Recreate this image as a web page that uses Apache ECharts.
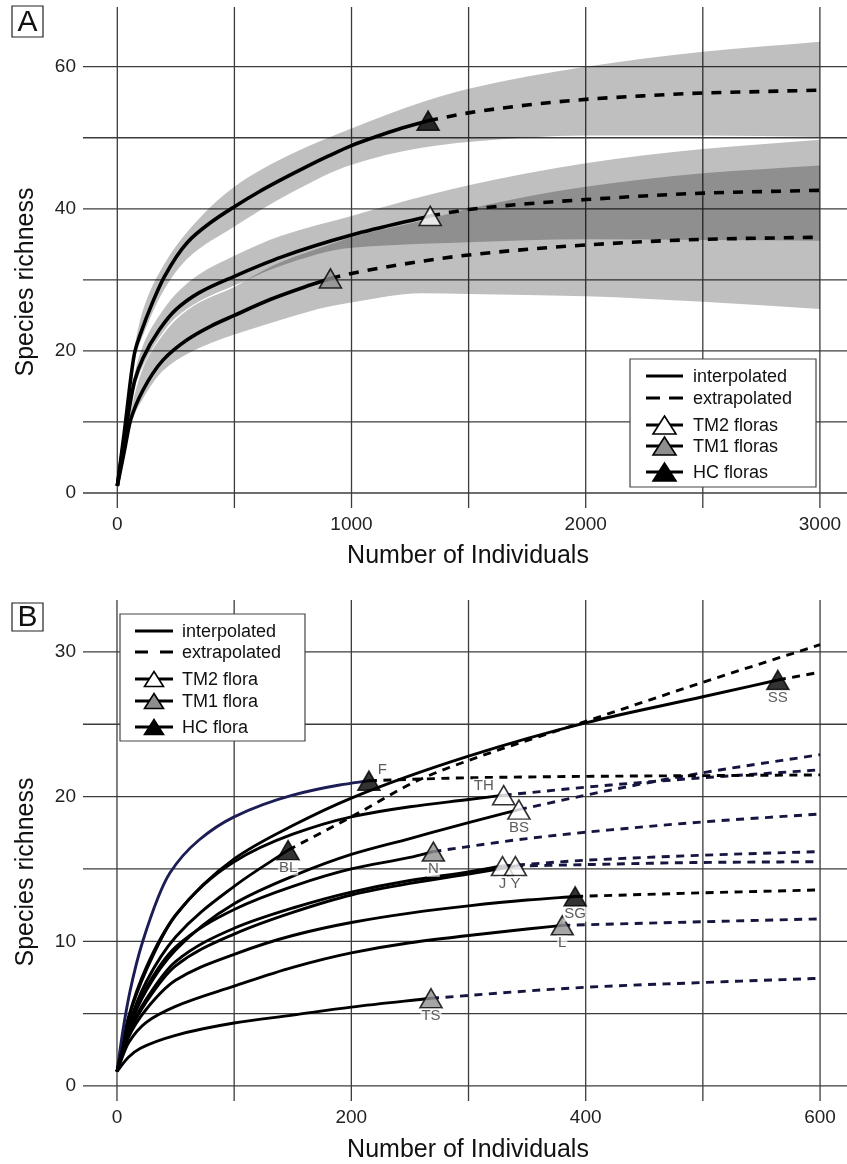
<!DOCTYPE html>
<html><head><meta charset="utf-8">
<script src="https://cdn.jsdelivr.net/npm/echarts@6/dist/echarts.min.js"></script>
<style>html,body{margin:0;padding:0;background:#fff}#c{width:847px;height:1164px}</style>
</head><body><div id="c"></div>
<script>
// ===================== DATA =====================
// Panel A ticks
const aXGrid = [0, 500, 1000, 1500, 2000, 2500, 3000];
const aYGrid = [0, 10, 20, 30, 40, 50, 60];
const aXLabels = [0, 1000, 2000, 3000];
const aYLabels = [0, 20, 40, 60];
// Panel A curves [individuals, species]
const aHC_interp = [[0,1],[30,8.6],[75,19.9],[100,22.5],[150,26.8],[200,30.4],[300,35.3],[400,38.1],[500,40.3],[600,42.3],[700,44.1],[800,45.8],[900,47.4],[1000,48.9],[1100,50.1],[1200,51.2],[1327,52.4]];
const aHC_extrap = [[1327,52.4],[1500,53.5],[1750,54.6],[2000,55.4],[2250,55.9],[2500,56.3],[2750,56.5],[3000,56.7]];
const aHC_upper = [[0,1],[30,9.2],[75,20.8],[110,25.8],[200,32.2],[300,36.8],[500,43.1],[750,47.8],[1000,51.3],[1300,55.0],[1500,56.9],[2000,60.0],[2500,62.1],[3000,63.5]];
const aHC_lower = [[0,1],[30,8.1],[75,19.0],[110,22.2],[200,28.6],[300,33.0],[500,37.5],[750,42.4],[1000,46.2],[1300,48.6],[1500,49.4],[2000,50.3],[2500,50.3],[3000,50.1]];
const aTM2_interp = [[0,1],[30,7.6],[75,15.9],[110,19.0],[180,23.0],[250,25.8],[350,28.2],[500,30.5],[700,33.2],[1000,36.3],[1336,39.0]];
const aTM2_extrap = [[1336,39.0],[1500,39.9],[1750,40.7],[2000,41.3],[2500,42.2],[3000,42.6]];
const aTM2_upper = [[0,1],[30,8.1],[75,17.0],[110,20.8],[180,25.0],[250,28.0],[350,30.8],[500,33.4],[700,36.2],[1000,39.0],[1336,42.0],[1500,43.3],[2000,46.4],[2500,48.4],[3000,49.7]];
const aTM2_lower = [[0,1],[30,7.1],[75,14.9],[110,17.9],[180,21.9],[250,24.7],[350,27.0],[500,29.2],[700,32.0],[1000,34.5],[1336,35.1],[1500,35.3],[2000,35.7],[2500,35.6],[3000,35.5]];
const aTM1_interp = [[0,1],[30,5.9],[57,10.3],[110,14.5],[195,18.7],[300,21.6],[400,23.5],[500,25.0],[650,27.2],[800,29.0],[910,30.2]];
const aTM1_extrap = [[910,30.2],[1000,30.9],[1200,32.1],[1500,33.5],[2000,34.9],[2500,35.7],[3000,36.0]];
const aTM1_upper = [[0,1],[30,6.6],[57,11.5],[110,17.6],[180,21.6],[250,24.4],[350,26.8],[500,29.0],[600,30.9],[700,32.5],[910,35.0],[1000,36.0],[1300,38.3],[1500,40.0],[2000,43.1],[2500,45.0],[3000,46.1]];
const aTM1_lower = [[0,1],[30,5.4],[57,9.6],[110,13.3],[195,17.2],[300,19.6],[400,21.1],[500,22.3],[700,24.4],[910,26.3],[1000,26.8],[1300,28.1],[1500,28.0],[2000,27.7],[2500,26.9],[3000,25.9]];

// Panel B ticks
const bXGrid = [0, 100, 200, 300, 400, 500, 600];
const bYGrid = [0, 5, 10, 15, 20, 25, 30];
const bXLabels = [0, 200, 400, 600];
const bYLabels = [0, 10, 20, 30];
// Panel B floras
const bNames = ['SS', 'TH', 'BS', 'F', 'BL', 'N', 'J', 'Y', 'SG', 'L', 'TS'];
const bTypes = ['HC', 'TM2', 'TM2', 'HC', 'HC', 'TM1', 'TM2', 'TM2', 'HC', 'TM1', 'TM1'];
const bSS_i = [[0,1],[10,4.8],[25,8.2],[50,11.8],[100,15.7],[150,18.0],[200,19.9],[300,22.8],[400,25.1],[500,26.9],[564,28.06]];
const bSS_e = [[564,28.06],[580,28.3],[600,28.6]];
const bTH_i = [[0,1],[10,4.7],[25,8.0],[50,11.8],[100,15.5],[150,17.4],[200,18.6],[250,19.3],[300,19.8],[330,20.1]];
const bTH_e = [[330,20.1],[421,20.8],[500,21.3],[600,21.85]];
const bBS_i = [[0,1],[10,3.9],[25,6.6],[50,9.4],[100,12.6],[150,14.5],[200,16.0],[250,17.1],[300,18.2],[343,19.1]];
const bBS_e = [[343,19.1],[421,20.45],[500,21.65],[600,22.9]];
const bF_i = [[0,1],[5,3.8],[11,6.5],[22,10.0],[45,14.7],[70,17.0],[100,18.6],[150,20.1],[190,20.8],[215,21.1]];
const bF_e = [[215,21.1],[300,21.3],[400,21.4],[500,21.45],[600,21.5]];
const bBL_i = [[0,1],[10,4.2],[25,7.2],[50,10.3],[100,13.8],[146,16.3]];
const bBL_e = [[146,16.3],[200,18.6],[259,21.2],[300,22.5],[400,25.2],[500,27.9],[600,30.5]];
const bN_i = [[0,1],[10,4.1],[25,6.8],[50,9.6],[100,12.2],[150,13.8],[200,15.0],[250,15.8],[270,16.2]];
const bN_e = [[270,16.2],[350,17.1],[421,17.7],[500,18.25],[600,18.8]];
const bJ_i = [[0,1],[10,3.7],[25,6.0],[50,8.6],[100,10.9],[150,12.3],[200,13.4],[250,14.2],[300,14.8],[329,15.2]];
const bJ_e = [[329,15.2],[400,15.6],[500,15.95],[600,16.2]];
const bY_i = [[0,1],[10,3.6],[25,5.8],[50,8.3],[100,10.5],[150,12.0],[200,13.2],[250,14.0],[300,14.65],[340,15.2]];
const bY_e = [[340,15.2],[400,15.3],[500,15.45],[600,15.5]];
const bSG_i = [[0,1],[10,3.4],[25,5.3],[50,7.3],[100,9.1],[150,10.4],[200,11.3],[250,11.95],[300,12.45],[350,12.85],[391,13.1]];
const bSG_e = [[391,13.1],[500,13.35],[600,13.55]];
const bL_i = [[0,1],[10,3.0],[25,4.4],[50,5.5],[100,6.9],[150,8.2],[200,9.2],[250,9.9],[300,10.4],[350,10.85],[380,11.1]];
const bL_e = [[380,11.1],[500,11.35],[600,11.55]];
const bTS_i = [[0,1],[10,2.0],[20,2.6],[50,3.5],[100,4.35],[150,4.9],[200,5.45],[268,6.06]];
const bTS_e = [[268,6.06],[400,6.82],[500,7.15],[600,7.44]];
const bInterp = [bSS_i, bTH_i, bBS_i, bF_i, bBL_i, bN_i, bJ_i, bY_i, bSG_i, bL_i, bTS_i];
const bExtrap = [bSS_e, bTH_e, bBS_e, bF_e, bBL_e, bN_e, bJ_e, bY_e, bSG_e, bL_e, bTS_e];

// ===================== STYLE =====================
const FONT = "'Liberation Sans', Arial, Helvetica, sans-serif";
const FILL = { TM2: '#ffffff', TM1: '#8e8e8e', HC: '#000000' };
const NAVY = '#15153f';
const GRID_COLOR = '#3c3c3c';

function gridLines(idx, xs, ys) {
  return {
    type: 'custom', xAxisIndex: idx, yAxisIndex: idx, silent: true, z: 1, data: [[0, 0]],
    renderItem: function (params, api) {
      const cs = params.coordSys; const ch = [];
      xs.forEach(v => { const p = api.coord([v, 0]); ch.push({ type: 'line', shape: { x1: p[0], y1: cs.y, x2: p[0], y2: cs.y + cs.height }, style: { stroke: GRID_COLOR, lineWidth: 1.3 } }); });
      ys.forEach(v => { const p = api.coord([0, v]); ch.push({ type: 'line', shape: { x1: cs.x, y1: p[1], x2: cs.x + cs.width, y2: p[1] }, style: { stroke: GRID_COLOR, lineWidth: 1.3 } }); });
      return { type: 'group', children: ch };
    }
  };
}
// monotone cubic (PCHIP) bezier segments through pixel points (x increasing)
function pchipSegs(p) {
  const n = p.length, h = [], d = [], m = [];
  for (let k = 0; k < n - 1; k++) { h[k] = p[k + 1][0] - p[k][0]; d[k] = (p[k + 1][1] - p[k][1]) / h[k]; }
  m[0] = d[0]; m[n - 1] = d[n - 2];
  for (let k = 1; k < n - 1; k++) {
    if (d[k - 1] * d[k] <= 0) m[k] = 0;
    else { const w1 = 2 * h[k] + h[k - 1], w2 = h[k] + 2 * h[k - 1]; m[k] = (w1 + w2) / (w1 / d[k - 1] + w2 / d[k]); }
  }
  const segs = [];
  for (let k = 0; k < n - 1; k++) {
    segs.push([p[k], [p[k][0] + h[k] / 3, p[k][1] + m[k] * h[k] / 3], [p[k + 1][0] - h[k] / 3, p[k + 1][1] - m[k + 1] * h[k] / 3], p[k + 1]]);
  }
  return segs;
}
function fwd(segs) { return segs.map(s => ' C' + s[1][0] + ',' + s[1][1] + ' ' + s[2][0] + ',' + s[2][1] + ' ' + s[3][0] + ',' + s[3][1]).join(''); }
function rev(segs) { return segs.slice().reverse().map(s => ' C' + s[2][0] + ',' + s[2][1] + ' ' + s[1][0] + ',' + s[1][1] + ' ' + s[0][0] + ',' + s[0][1]).join(''); }

function band(upper, lower) {
  return {
    type: 'custom', xAxisIndex: 0, yAxisIndex: 0, silent: true, z: 2, data: [[0, 0]],
    renderItem: function (params, api) {
      const up = upper.map(p => api.coord(p));
      const lo = lower.map(p => api.coord(p));
      const last = lo[lo.length - 1];
      const d = 'M' + up[0][0] + ',' + up[0][1] + fwd(pchipSegs(up)) + ' L' + last[0] + ',' + last[1] + rev(pchipSegs(lo)) + ' Z';
      return { type: 'path', shape: { pathData: d }, style: { fill: 'rgba(0,0,0,0.25)' } };
    }
  };
}
function curve(idx, data, color, width, dash) {
  return {
    type: 'custom', xAxisIndex: idx, yAxisIndex: idx, silent: true, z: 3, data: [[0, 0]],
    renderItem: function (params, api) {
      const pts = data.map(p => api.coord(p));
      const d = 'M' + pts[0][0] + ',' + pts[0][1] + fwd(pchipSegs(pts));
      return { type: 'path', shape: { pathData: d }, style: { fill: 'none', stroke: color, lineWidth: width, lineDash: dash || null, lineCap: 'butt', lineJoin: 'round' } };
    }
  };
}
function marker(idx, pts, size) {
  return { type: 'scatter', xAxisIndex: idx, yAxisIndex: idx, z: 5, silent: true, symbol: 'triangle', symbolSize: size, data: pts };
}

const series = [];
series.push(gridLines(0, aXGrid, aYGrid));
series.push(gridLines(1, bXGrid, bYGrid));
series.push(band(aHC_upper, aHC_lower));
series.push(band(aTM2_upper, aTM2_lower));
series.push(band(aTM1_upper, aTM1_lower));
const DASH_A = [10, 9];
[[aHC_interp, aHC_extrap], [aTM2_interp, aTM2_extrap], [aTM1_interp, aTM1_extrap]].forEach(([i, e]) => {
  series.push(curve(0, i, '#000', 3.6));
  series.push(curve(0, e, '#000', 3.6, DASH_A));
});
series.push(marker(0, [['HC', aHC_interp], ['TM2', aTM2_interp], ['TM1', aTM1_interp]].map(([t, arr]) => ({
  value: arr[arr.length - 1], itemStyle: { color: FILL[t], borderColor: '#000', borderWidth: 1.6 }
})), [22, 19]));

const DASH_B = [8, 6.5];
bNames.forEach((n, k) => {
  const t = bTypes[k];
  series.push(curve(1, bInterp[k], n === 'F' ? '#1d1d55' : '#000', 2.9));
  series.push(curve(1, bExtrap[k], t === 'HC' ? '#000' : NAVY, 2.9, DASH_B));
});
const labelCfg = {
  F: { position: 'right', distance: -4, offset: [0, -11] },
  TH: { position: 'left', distance: -3, offset: [0, -9] }
};
series.push(marker(1, bNames.map((n, k) => {
  const arr = bInterp[k];
  const lc = Object.assign({ show: true, formatter: n, position: 'bottom', distance: 0, fontSize: 15, color: '#333', fontFamily: FONT,
    backgroundColor: 'rgba(255,255,255,0.85)', padding: [0, 1], lineHeight: 15 }, labelCfg[n] || {});
  return { value: arr[arr.length - 1], name: n, itemStyle: { color: FILL[bTypes[k]], borderColor: '#000', borderWidth: 1.6 }, label: lc };
}), [22, 19]));

// ===================== GRAPHICS (titles, legends, panel letters) =====================
function txt(x, y, s, size, opts) {
  return Object.assign({ type: 'text', x: x, y: y, z: 20, silent: true,
    style: { text: s, font: size + 'px ' + FONT, fill: '#111', textAlign: 'left', align: 'left', textVerticalAlign: 'middle', verticalAlign: 'middle' } }, opts || {});
}
function ctxt(x, y, s, size, rot) {
  const t = txt(x, y, s, size);
  t.style.textAlign = 'center'; t.style.align = 'center';
  if (rot) t.rotation = rot;
  return t;
}
function tri(cx, cy, w, h, fill) {
  return { type: 'polygon', z: 21, silent: true, shape: { points: [[cx - w / 2, cy + h / 2], [cx + w / 2, cy + h / 2], [cx, cy - h / 2]] },
    style: { fill: fill, stroke: '#000', lineWidth: 1.6 } };
}
function seg(x1, x2, y, dash, w) {
  return { type: 'line', z: 21, silent: true, shape: { x1: x1, y1: y, x2: x2, y2: y }, style: { stroke: '#000', lineWidth: w, lineDash: dash || null } };
}
function legend(box, sx1, sx2, tx, ys, labels, triW, triH, dash) {
  const g = [{ type: 'rect', z: 19, silent: true, shape: { x: box[0], y: box[1], width: box[2], height: box[3] }, style: { fill: '#fff', stroke: '#444', lineWidth: 1.2 } }];
  const cx = (sx1 + sx2) / 2;
  g.push(seg(sx1, sx2, ys[0], null, 3));
  g.push(seg(sx1, sx2, ys[1], dash, 3));
  g.push(seg(sx1, sx2, ys[2], null, 3)); g.push(tri(cx, ys[2], triW, triH, FILL.TM2));
  g.push(seg(sx1, sx2, ys[3], null, 3)); g.push(tri(cx, ys[3], triW, triH, FILL.TM1));
  g.push(seg(sx1, sx2, ys[4], null, 3)); g.push(tri(cx, ys[4], triW, triH, FILL.HC));
  labels.forEach((l, i) => g.push(txt(tx, ys[i] + 1, l, 18)));
  return g;
}
function panelLetter(x, y, w, h, s) {
  return [{ type: 'rect', z: 19, silent: true, shape: { x: x, y: y, width: w, height: h }, style: { fill: '#fff', stroke: '#222', lineWidth: 1.2 } },
    ctxt(x + w / 2, y + h / 2 + 1, s, 30)];
}

const graphics = [].concat(
  panelLetter(12, 6, 31, 31, 'A'),
  panelLetter(12, 603, 31, 28, 'B'),
  [ctxt(468, 556, 'Number of Individuals', 25), ctxt(26, 282, 'Species richness', 25, Math.PI / 2),
   ctxt(468, 1150, 'Number of Individuals', 25), ctxt(26, 872, 'Species richness', 25, Math.PI / 2)],
  legend([630, 359, 186, 128], 646, 683, 693, [376, 398, 425, 446, 472], ['interpolated', 'extrapolated', 'TM2 floras', 'TM1 floras', 'HC floras'], 23, 18, [14, 9]),
  legend([120, 614, 185, 127], 135, 173, 182, [631, 652, 679, 701, 727], ['interpolated', 'extrapolated', 'TM2 flora', 'TM1 flora', 'HC flora'], 19, 15, [13, 12])
);

function axis(idx, min, max, labels) {
  return { gridIndex: idx, type: 'value', min: min, max: max, axisLine: { show: false }, axisTick: { show: false }, splitLine: { show: false },
    axisLabel: { customValues: labels, formatter: v => String(v), fontSize: 19, color: '#222', fontFamily: FONT, margin: 7 } };
}

const chart = echarts.init(document.getElementById('c'), null, { renderer: 'canvas' });
chart.setOption({
  animation: false,
  backgroundColor: '#fff',
  grid: [{ left: 83, top: 7, width: 764, height: 501 }, { left: 83, top: 600, width: 764, height: 501 }],
  xAxis: [axis(0, -146.5, 3115.7, aXLabels), axis(1, -29.0, 623.0, bXLabels)],
  yAxis: [axis(0, -2.11, 68.4, aYLabels), axis(1, -1.04, 33.59, bYLabels)],
  series: series,
  graphic: { elements: graphics }
});
</script></body></html>
